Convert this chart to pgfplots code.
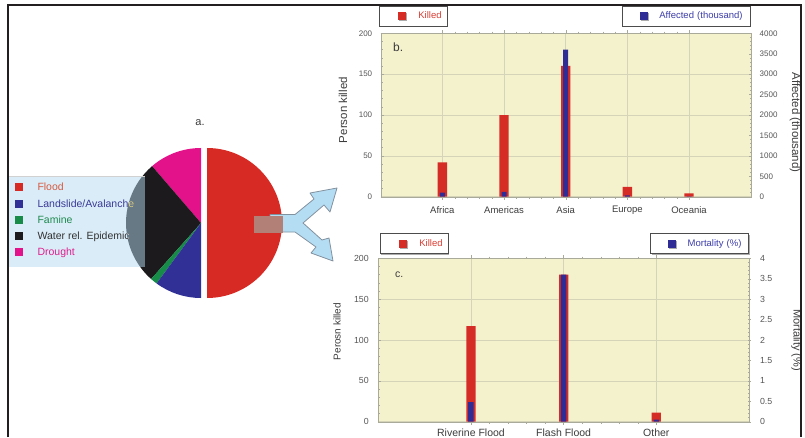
\documentclass[border=0pt]{standalone}
\usepackage{fontspec}
\setmainfont{Liberation Sans}
\usepackage{pgfplots}
\pgfplotsset{compat=1.18}
\usetikzlibrary{shadows}
\newcommand\fs[1]{\fontsize{#1}{#1}\selectfont}
\definecolor{floodc}{RGB}{216,42,36}
\definecolor{landc}{RGB}{48,48,150}
\definecolor{faminec}{RGB}{22,140,72}
\definecolor{waterc}{RGB}{28,26,28}
\definecolor{droughtc}{RGB}{228,18,138}
\definecolor{barred}{RGB}{214,44,38}
\definecolor{barblue}{RGB}{48,44,150}
\definecolor{plotbg}{RGB}{244,241,205}
\definecolor{gridc}{RGB}{214,212,184}
\definecolor{axisc}{RGB}{170,170,155}
\definecolor{tickc}{RGB}{85,85,85}
\definecolor{labc}{RGB}{60,60,60}
\definecolor{legbox}{RGB}{181,217,241}
\definecolor{arrowc}{RGB}{180,221,243}
\definecolor{arrowe}{RGB}{130,145,158}
\definecolor{brownc}{RGB}{178,128,118}
\definecolor{framec}{RGB}{35,31,32}
\definecolor{lgflood}{RGB}{214,90,64}
\definecolor{lgland}{RGB}{58,58,150}
\definecolor{lgfamine}{RGB}{30,138,78}
\definecolor{lgwater}{RGB}{50,50,50}
\definecolor{lgdrought}{RGB}{222,30,140}
\definecolor{invland}{RGB}{230,225,120}
\definecolor{invwater}{RGB}{205,205,205}
\definecolor{legred}{RGB}{220,60,50}
\definecolor{legblue}{RGB}{60,60,170}
\pgfplotsset{
  barchart/.style={
    scale only axis, anchor=south west,
    axis line style={axisc, -},
    tick style={axisc, line width=0.4pt},
    major tick length=3pt, minor tick length=1.8pt,
    /pgf/number format/assume math mode=true,
    yticklabel style={font=\fs{8}, text=tickc},
    xticklabel style={text=labc, yshift=-3pt},
    ybar, bar shift=0pt,
    legend cell align=left,
    legend style={draw=black!70, line width=0.7pt, fill=white,
      inner xsep=3pt, inner ysep=2pt,
      nodes={inner xsep=2pt, inner ysep=0pt, minimum height=16pt, align=left, font=\fs{9.5}},
      drop shadow={shadow xshift=0.9pt, shadow yshift=-0.9pt, fill=black!65}},
  },
  redleg/.style={legend image code/.code={\path (0pt,0pt) (34pt,0pt); \fill[barred] (16pt,-4pt) rectangle (24pt,4pt);}},
  blueleg/.style={legend image code/.code={\path (0pt,0pt) (32pt,0pt); \fill[barblue] (14.5pt,-4pt) rectangle (22.5pt,4pt);}},
}
\begin{document}
\begin{tikzpicture}[x=1pt,y=1pt]
\useasboundingbox (0,0) rectangle (805,437);

% ---------------- a. pie chart (shares in %: Flood 50, Drought 11.3, Water rel. Epidemic 27.1, Famine 1.5, Landslide 10.1)
\begin{axis}[at={(126pt,139pt)}, anchor=south west, scale only axis,
  width=150pt, height=150pt, xmin=-1, xmax=1, ymin=-1, ymax=1,
  hide axis, clip=false]
\addplot[fill=droughtc, draw=none] coordinates {(0,0)} -- ++(90:75pt) arc[start angle=90, end angle=130.7, radius=75pt] -- cycle;
\addplot[fill=waterc, draw=none] coordinates {(0,0)} -- ++(130.7:75pt) arc[start angle=130.7, end angle=228.3, radius=75pt] -- cycle;
\addplot[fill=faminec, draw=none] coordinates {(0,0)} -- ++(228.3:75pt) arc[start angle=228.3, end angle=233.7, radius=75pt] -- cycle;
\addplot[fill=landc, draw=none] coordinates {(0,0)} -- ++(233.7:75pt) arc[start angle=233.7, end angle=270, radius=75pt] -- cycle;
\addplot[fill=floodc, draw=none] coordinates {(0.08,0)} -- ++(-90:75pt) arc[start angle=-90, end angle=90, radius=75pt] -- cycle;
\end{axis}

% pie legend
\fill[legbox, fill opacity=0.5] (9.3,170.3) rectangle (145,261);
\draw[black!18, line width=0.6pt] (9.3,261) -- (145,261);
\foreach \yy/\cc in {250/floodc, 233.3/landc, 217/faminec, 200.7/waterc, 184.7/droughtc}
  \fill[\cc] (15,\yy-3.9) rectangle (22.7,\yy+3.9);
\begin{scope}[every node/.style={anchor=west, inner sep=0pt, font=\fs{10.5}}]
\node[text=lgflood] at (37.3,250) {Flood};
\node[text=lgland] at (37.3,233.3) {Landslide/Avalanche};
\node[text=lgfamine] at (37.3,217) {Famine};
\node[text=lgwater] at (37.3,200.7) {Water rel. Epidemic};
\node[text=lgdrought] at (37.3,184.7) {Drought};
\begin{scope}
\clip (201,214) circle (75);
\node[text=invland] at (37.3,233.3) {Landslide/Avalanche};
\node[text=invwater] at (37.3,200.7) {Water rel. Epidemic};
\end{scope}
\end{scope}
\node[font=\fs{11}, text=labc] at (200,314) {a.};

% arrow
\filldraw[fill=arrowc, draw=arrowe, line width=0.8pt, line join=round]
  (270,222.5) -- (295,222.5) -- (314,238) -- (310,244) -- (337,249) -- (330,225) -- (324,232)
  -- (303,214) -- (322,197) -- (329,199) -- (333,176) -- (311,184) -- (316,190)
  -- (295,205) -- (270,205) -- cycle;
\fill[brownc] (254,204) rectangle (283,221);

% ---------------- b. by continent
\begin{axis}[barchart, at={(380.7pt,240.3pt)}, width=370pt, height=163.4pt,
  xmin=0, xmax=6, ymin=0, ymax=200,
  xtick={1,2,3,4,5}, xticklabels={Africa,Americas,Asia,Europe,Oceania},
  xticklabel style={font=\fs{9.5}},
  ytick={0,50,100,150,200}, ytick pos=left,
  yticklabel style={xshift=-5pt},
  minor x tick num=4, minor y tick num=4,
  grid=major, grid style={gridc, line width=0.5pt},
  axis background/.style={fill=plotbg},
  ylabel={Person killed},
  every axis y label/.style={at={(axis description cs:-0.102,0.53)}, anchor=center, rotate=90, font=\fs{11.5}, text=labc},
  legend style={at={(axis description cs:0,1)}, anchor=south west, xshift=-1.7pt, yshift=6.8pt,
    nodes={text width=24pt}},
]
\addplot[fill=barred, draw=none, bar width=9.3pt, redleg] coordinates {(1,42) (2,100) (3,160) (4,12) (5,4)};
\addlegendentry{\textcolor{legred}{Killed}}
\node[anchor=north west, inner sep=0pt, font=\fs{12}, text=labc] at (rel axis cs:0.033,0.942) {b.};
\end{axis}
\begin{axis}[barchart, at={(380.7pt,240.3pt)}, width=370pt, height=163.4pt,
  xmin=0, xmax=6, ymin=0, ymax=4000,
  axis x line=none, axis y line=right, axis line style={axisc, -},
  ytick={0,500,...,4000}, minor y tick num=4, scaled y ticks=false,
  yticklabel style={/pgf/number format/1000 sep={}, xshift=4pt},
  ylabel={Affected (thousand)},
  every axis y label/.style={at={(axis description cs:1.12,0.454)}, anchor=center, rotate=-90, font=\fs{11.5}, text=labc},
  legend style={at={(axis description cs:1,1)}, anchor=south east, yshift=6.8pt,
    nodes={text width=86pt}},
]
\addplot[fill=barblue, draw=none, bar width=5pt, blueleg] coordinates {(1,100) (2,120) (3,3600) (4,30) (5,10)};
\addlegendentry{\textcolor{legblue}{Affected (thousand)}}
\end{axis}

% ---------------- c. by flood type
\begin{axis}[barchart, at={(378.3pt,15.3pt)}, width=370.7pt, height=163.4pt,
  xmin=0, xmax=4, ymin=0, ymax=200,
  xtick={1,2,3}, xticklabels={Riverine Flood,Flash Flood,Other},
  xticklabel style={font=\fs{10.5}, inner sep=0pt, anchor=north, yshift=-0.5pt},
  ytick={0,50,100,150,200}, ytick pos=left,
  yticklabel style={font=\fs{8.8}, xshift=-6pt},
  minor x tick num=4, minor y tick num=4,
  grid=major, grid style={gridc, line width=0.5pt},
  axis background/.style={fill=plotbg},
  ylabel={Perosn killed},
  every axis y label/.style={at={(axis description cs:-0.111,0.552)}, anchor=center, rotate=90, font=\fs{10}, text=labc},
  legend style={at={(axis description cs:0,1)}, anchor=south west, xshift=1.7pt, yshift=4.3pt,
    nodes={text width=24pt}},
]
\addplot[fill=barred, draw=none, bar width=9.3pt, redleg] coordinates {(1,117) (2,180) (3,11)};
\addlegendentry{\textcolor{legred}{Killed}}
\node[anchor=north west, inner sep=0pt, font=\fs{10.5}, text=labc] at (rel axis cs:0.045,0.916) {c.};
\end{axis}
\begin{axis}[barchart, at={(378.3pt,15.3pt)}, width=370.7pt, height=163.4pt,
  xmin=0, xmax=4, ymin=0, ymax=4,
  axis x line=none, axis y line=right, axis line style={axisc, -},
  ytick={0,0.5,...,4}, minor y tick num=4, scaled y ticks=false,
  yticklabel style={font=\fs{8.8}, xshift=6pt},
  ylabel={Mortality (\%)},
  every axis y label/.style={at={(axis description cs:1.128,0.5)}, anchor=center, rotate=-90, font=\fs{11}, text=labc},
  legend style={at={(axis description cs:1,1)}, anchor=south east, yshift=4.3pt,
    nodes={text width=56pt}},
]
\addplot[fill=barblue, draw=none, bar width=5.5pt, blueleg] coordinates {(1,0.48) (2,3.6) (3,0.05)};
\addlegendentry{\textcolor{legblue}{Mortality (\%)}}
\end{axis}

% outer frame
\draw[framec, line width=2pt] (8.3,0) -- (8.3,431.5) -- (800.5,431.5) -- (800.5,0);
\end{tikzpicture}
\end{document}
